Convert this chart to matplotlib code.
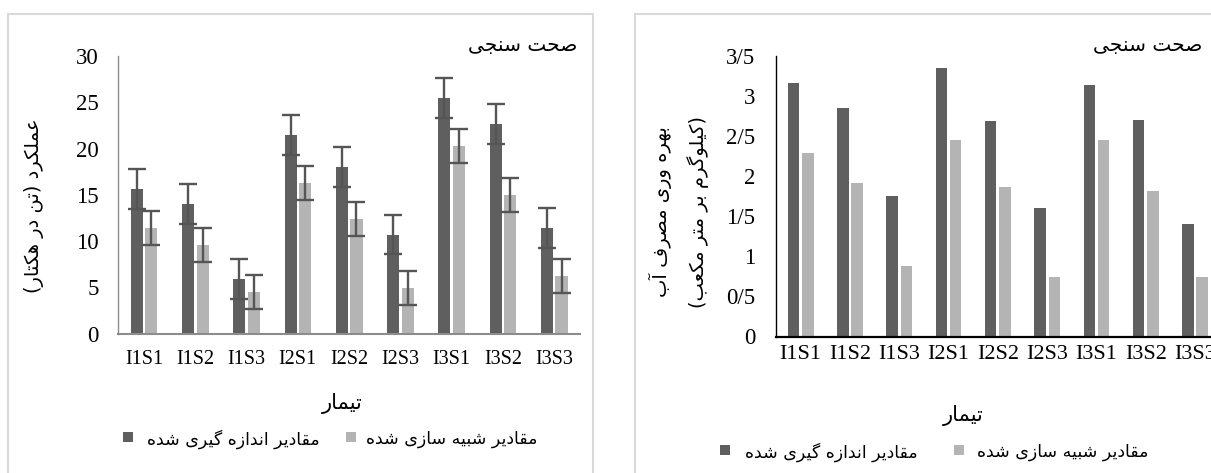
import matplotlib
matplotlib.use("Agg")
import matplotlib.pyplot as plt
from matplotlib.patches import Rectangle
import numpy as np

# treatments
treatments = ["I1S1", "I1S2", "I1S3", "I2S1", "I2S2", "I2S3", "I3S1", "I3S2", "I3S3"]

# yield (t/ha)
yield_measured = [15.6, 14.0, 5.9, 21.5, 18.0, 10.7, 25.5, 22.65, 11.4]
yield_simulated = [11.4, 9.6, 4.5, 16.3, 12.4, 4.9, 20.3, 15.0, 6.2]
yield_err_measured = [2.15] * 9
yield_err_simulated = [1.85] * 9

# water productivity (kg/m3)
wp_measured = [3.17, 2.85, 1.75, 3.36, 2.69, 1.60, 3.14, 2.70, 1.40]
wp_simulated = [2.29, 1.92, 0.88, 2.46, 1.87, 0.74, 2.46, 1.82, 0.74]
wp_ticks = [0, 0.5, 1, 1.5, 2, 2.5, 3, 3.5]
wp_ticklabels = ["0", "0/5", "1", "1/5", "2", "2/5", "3", "3/5"]

yield_ticks = [0, 5, 10, 15, 20, 25, 30]

label_measured = "مقادیر اندازه گیری شده"
label_simulated = "مقادیر شبیه سازی شده"
label_title = "صحت سنجی"
label_x = "تیمار"
label_yield = "عملکرد (تن در هکتار)"
label_wp1 = "بهره وری مصرف آب"
label_wp2 = "(کیلوگرم بر متر مکعب)"

DARK = "#5f5f5f"
LIGHT = "#b4b4b4"

# isolated, final, initial, medial
FORMS = {
    "ا": ("\uFE8D", "\uFE8E", None, None),
    "آ": ("\uFE81", "\uFE82", None, None),
    "ب": ("\uFE8F", "\uFE90", "\uFE91", "\uFE92"),
    "ت": ("\uFE95", "\uFE96", "\uFE97", "\uFE98"),
    "ج": ("\uFE9D", "\uFE9E", "\uFE9F", "\uFEA0"),
    "ح": ("\uFEA1", "\uFEA2", "\uFEA3", "\uFEA4"),
    "د": ("\uFEA9", "\uFEAA", None, None),
    "ر": ("\uFEAD", "\uFEAE", None, None),
    "ز": ("\uFEAF", "\uFEB0", None, None),
    "س": ("\uFEB1", "\uFEB2", "\uFEB3", "\uFEB4"),
    "ش": ("\uFEB5", "\uFEB6", "\uFEB7", "\uFEB8"),
    "ص": ("\uFEB9", "\uFEBA", "\uFEBB", "\uFEBC"),
    "ع": ("\uFEC9", "\uFECA", "\uFECB", "\uFECC"),
    "ف": ("\uFED1", "\uFED2", "\uFED3", "\uFED4"),
    "ق": ("\uFED5", "\uFED6", "\uFED7", "\uFED8"),
    "ک": ("\uFB8E", "\uFB8F", "\uFB90", "\uFB91"),
    "گ": ("\uFB92", "\uFB93", "\uFB94", "\uFB95"),
    "ل": ("\uFEDD", "\uFEDE", "\uFEDF", "\uFEE0"),
    "م": ("\uFEE1", "\uFEE2", "\uFEE3", "\uFEE4"),
    "ن": ("\uFEE5", "\uFEE6", "\uFEE7", "\uFEE8"),
    "ه": ("\uFEE9", "\uFEEA", "\uFEEB", "\uFEEC"),
    "و": ("\uFEED", "\uFEEE", None, None),
    "ی": ("\uFBFC", "\uFBFD", "\uFBFE", "\uFBFF"),
}


def fa(text):
    # shape persian letters and flip to visual order (no bidi support in mpl)
    text = text.replace("\u064A", "\u06CC").replace("\u0643", "\u06A9")
    out = []
    for i, ch in enumerate(text):
        if ch not in FORMS:
            out.append(ch)
            continue
        prev = text[i - 1] if i > 0 else ""
        nxt = text[i + 1] if i + 1 < len(text) else ""
        join_prev = prev in FORMS and FORMS[prev][2] is not None
        join_next = FORMS[ch][2] is not None and nxt in FORMS
        iso, fin, ini, med = FORMS[ch]
        if join_prev and join_next:
            out.append(med)
        elif join_prev:
            out.append(fin)
        elif join_next:
            out.append(ini)
        else:
            out.append(iso)
    mirror = {"(": ")", ")": "("}
    return "".join(mirror.get(c, c) for c in reversed(out))


W, H = 1211, 473
fig = plt.figure(figsize=(W / 100, H / 100), dpi=100)
FA = {"family": ["DejaVu Sans"]}
SERIF = ["Liberation Serif", "DejaVu Serif"]


def px(x, y):
    return x / W, 1 - y / H


def ftext(x, y, s, **kw):
    fx, fy = px(x, y)
    fig.text(fx, fy, s, **kw)


def square(x, yc, color):
    # 10px legend swatch, x = left edge, yc = vertical centre
    fx, fy = px(x, yc + 5)
    fig.patches.append(Rectangle((fx, fy), 10 / W, 10 / H, transform=fig.transFigure,
                                 facecolor=color, edgecolor="none"))


# panel frames
for x0, x1 in [(8, 593), (635, 1260)]:
    fx0, fy0 = px(x0, 480)
    fx1, fy1 = px(x1, 14)
    fig.patches.append(Rectangle((fx0, fy0), fx1 - fx0, fy1 - fy0, transform=fig.transFigure,
                                 facecolor="none", edgecolor="#d9d9d9", lw=1.5))

x = np.arange(len(treatments))
bw = 0.235

# ---- yield ----
ax1 = fig.add_axes([118.4 / W, 1 - 333.5 / H, 461.3 / W, 277.5 / H])
ax1.bar(x - 0.14, yield_measured, bw, color=DARK)
ax1.bar(x + 0.145, yield_simulated, bw, color=LIGHT)
ek = dict(fmt="none", ecolor="#555555", elinewidth=1.7, capsize=6.5, capthick=1.7)
ax1.errorbar(x - 0.14, yield_measured, yerr=yield_err_measured, **ek)
ax1.errorbar(x + 0.145, yield_simulated, yerr=yield_err_simulated, **ek)
ax1.set_xlim(-0.5, len(treatments) - 0.5)
ax1.set_ylim(0, 30)
ax1.set_yticks(yield_ticks)
ax1.set_xticks(x)
ax1.set_xticklabels(treatments, family=SERIF, fontsize=14.5)
ax1.set_yticklabels([str(t) for t in yield_ticks], family=SERIF, fontsize=16.5)
ax1.tick_params(axis="y", length=0, pad=14)
ax1.tick_params(axis="x", length=0, pad=12)
for s in ["top", "right"]:
    ax1.spines[s].set_visible(False)
ax1.spines["left"].set_color("#8c8c8c")
ax1.spines["left"].set_linewidth(1.0)
ax1.spines["bottom"].set_color("#8c8c8c")
ax1.spines["bottom"].set_linewidth(1.5)

ftext(577, 45, fa(label_title), ha="right", va="center", fontsize=14.5, **FA)
ftext(34, 206, fa(label_yield), ha="center", va="center", rotation=90, fontsize=14, **FA)
ftext(342, 403, fa(label_x), ha="center", va="center", fontsize=15, **FA)
square(123, 437, DARK)
ftext(147, 439, fa(label_measured), ha="left", va="center", fontsize=12.5, **FA)
square(346, 437, LIGHT)
ftext(366, 439, fa(label_simulated), ha="left", va="center", fontsize=12.5, **FA)

# ---- water productivity ----
ax2 = fig.add_axes([776 / W, 1 - 336.5 / H, 443.7 / W, 280 / H])
ax2.bar(x - 0.145, wp_measured, bw, color=DARK)
ax2.bar(x + 0.145, wp_simulated, bw, color=LIGHT)
ax2.set_xlim(-0.5, len(treatments) - 0.5)
ax2.set_ylim(0, 3.5)
ax2.set_yticks(wp_ticks)
ax2.set_yticklabels(wp_ticklabels, family=SERIF, fontsize=16.5)
ax2.set_xticks(x)
ax2.set_xticklabels(treatments, family=SERIF, fontsize=16)
ax2.tick_params(axis="y", length=0, pad=15)
ax2.tick_params(axis="x", length=0, pad=6)
for s in ["top", "right"]:
    ax2.spines[s].set_visible(False)
ax2.spines["left"].set_color("black")
ax2.spines["left"].set_linewidth(1.0)
ax2.spines["bottom"].set_color("black")
ax2.spines["bottom"].set_linewidth(1.6)

ftext(1202, 45, fa(label_title), ha="right", va="center", fontsize=14.5, **FA)
ftext(660, 212, fa(label_wp1), ha="center", va="center", rotation=90, fontsize=14, **FA)
ftext(698, 212, fa(label_wp2), ha="center", va="center", rotation=90, fontsize=14, **FA)
ftext(963, 415, fa(label_x), ha="center", va="center", fontsize=15, **FA)
square(720, 450, DARK)
ftext(745, 452, fa(label_measured), ha="left", va="center", fontsize=12.5, **FA)
square(954, 450, LIGHT)
ftext(977, 452, fa(label_simulated), ha="left", va="center", fontsize=12.5, **FA)

fig.savefig("out.png", dpi=100)
